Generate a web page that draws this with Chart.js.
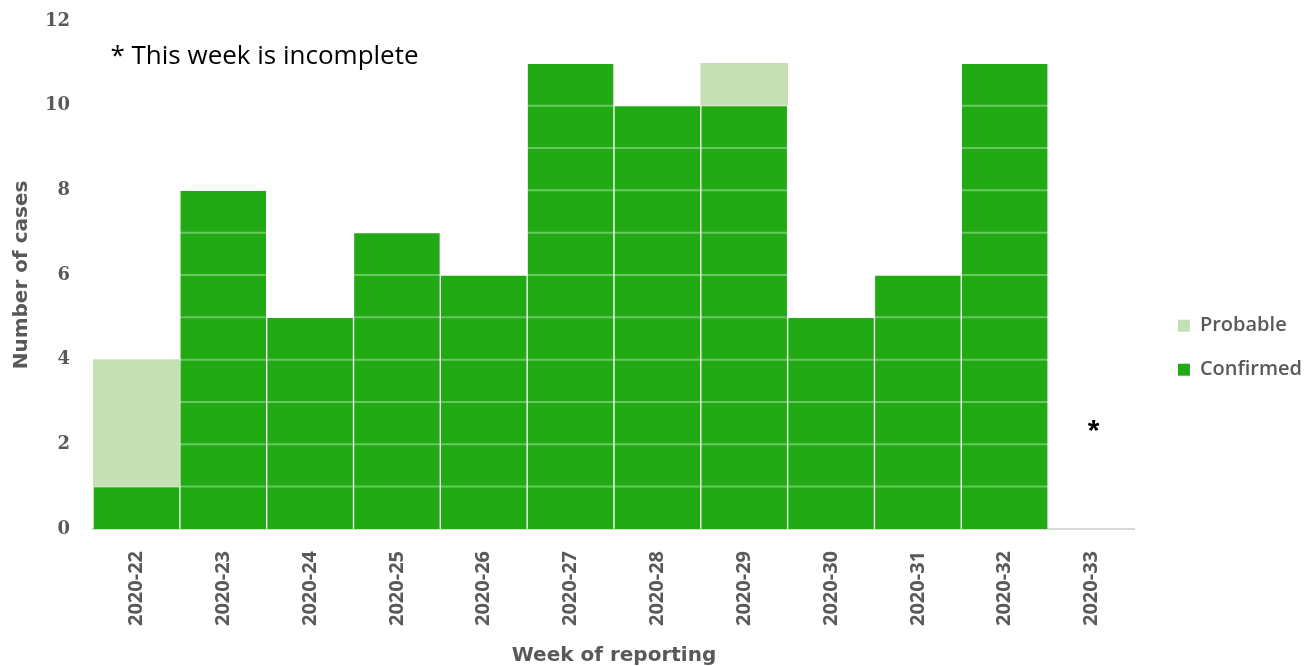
<!DOCTYPE html>
<html>
<head>
<meta charset="utf-8">
<script src="https://cdn.jsdelivr.net/npm/chart.js@4/dist/chart.umd.min.js"></script>
<style>
  html, body { margin: 0; padding: 0; background: #fff; }
  #wrap { width: 1304px; height: 666px; position: relative; }
</style>
</head>
<body>
<div id="wrap"><canvas id="c"></canvas></div>
<script>
const weeks = ["2020-22","2020-23","2020-24","2020-25","2020-26","2020-27","2020-28","2020-29","2020-30","2020-31","2020-32","2020-33"];
const confirmed = [1, 8, 5, 7, 6, 11, 10, 10, 5, 6, 11, 0];
const probable  = [3, 0, 0, 0, 0, 0, 0, 1, 0, 0, 0, 0];
const yTicks = [0, 2, 4, 6, 8, 10, 12];
const noteText = "* This week is incomplete";
const incompleteWeek = "2020-33";

const gray = "#595959";

const unitLines = {
  id: 'unitLines',
  afterDatasetsDraw(chart) {
    const ctx = chart.ctx;
    const y = chart.scales.y;
    const meta = chart.getDatasetMeta(0);
    ctx.save();
    ctx.strokeStyle = 'rgba(255,255,255,0.33)';
    ctx.lineWidth = 2;
    meta.data.forEach((bar, i) => {
      const v = confirmed[i];
      for (let k = 1; k < v; k++) {
        const py = y.getPixelForValue(k);
        ctx.beginPath();
        ctx.moveTo(bar.x - bar.width / 2, py);
        ctx.lineTo(bar.x + bar.width / 2, py);
        ctx.stroke();
      }
    });
    ctx.restore();
  }
};

const notes = {
  id: 'notes',
  afterDraw(chart) {
    const ctx = chart.ctx;
    const x = chart.scales.x, y = chart.scales.y;
    ctx.save();
    ctx.fillStyle = '#000';
    ctx.font = '26px "Open Sans", "Liberation Sans", sans-serif';
    ctx.textBaseline = 'middle';
    ctx.textAlign = 'left';
    ctx.fillText(noteText, x.getPixelForValue(0) - 26, y.getPixelForValue(11.15));
    ctx.font = 'bold 30px "Liberation Sans", sans-serif';
    ctx.textAlign = 'center';
    ctx.fillText('*', x.getPixelForValue(weeks.indexOf(incompleteWeek)) + 2, y.getPixelForValue(2.3));
    ctx.restore();
  }
};

new Chart(document.getElementById('c'), {
  type: 'bar',
  data: {
    labels: weeks,
    datasets: [
      { label: 'Confirmed', data: confirmed,
        backgroundColor: c => (c.raw === 0 ? 'rgba(0,0,0,0)' : '#22AA14'),
        borderColor: 'rgba(255,255,255,0.35)',
        borderWidth: c => (c.raw > 0 ? 1 : 0) },
      { label: 'Probable', data: probable,
        backgroundColor: c => (c.raw === 0 ? 'rgba(0,0,0,0)' : '#C6E0B5'),
        borderWidth: 0 }
    ]
  },
  options: {
    responsive: true,
    maintainAspectRatio: false,
    animation: false,
    layout: { padding: { top: 21, right: -8, left: 0, bottom: 0 } },
    datasets: { bar: { barPercentage: 1, categoryPercentage: 1 } },
    plugins: {
      legend: {
        position: 'right',
        reverse: true,
        title: { display: true, text: ' ', padding: 0, font: { size: 7 } },
        labels: {
          color: gray,
          font: { family: '"Open Sans", "Liberation Sans", sans-serif', size: 20, weight: '600' },
          boxWidth: 12, boxHeight: 12, padding: 24,
          generateLabels(chart) {
            return chart.data.datasets.map((ds, i) => ({
              text: ds.label,
              fillStyle: i === 0 ? '#22AA14' : '#C6E0B5',
              strokeStyle: 'rgba(0,0,0,0)',
              lineWidth: 0,
              fontColor: gray,
              hidden: false,
              datasetIndex: i
            }));
          }
        }
      },
      tooltip: { enabled: false }
    },
    scales: {
      x: {
        stacked: true,
        grid: { display: false },
        border: { display: true, color: '#D9D9D9', width: 2 },
        ticks: {
          color: gray, maxRotation: 90, minRotation: 90, padding: 14,
          font: { family: '"Open Sans", "Liberation Sans", sans-serif', size: 20, weight: 'bold' }
        },
        title: {
          display: true, text: 'Week of reporting', color: gray,
          font: { family: '"DejaVu Sans", sans-serif', size: 20, weight: 'bold', lineHeight: 1 },
          padding: { top: 6, bottom: 0 }
        }
      },
      y: {
        stacked: true,
        min: 0, max: 12,
        afterBuildTicks(scale) { scale.ticks = yTicks.map(v => ({ value: v })); },
        grid: { display: false, drawTicks: true, tickLength: 23 },
        border: { display: false },
        ticks: {
          color: gray, padding: 0,
          font: { family: '"DejaVu Serif", serif', size: 18, weight: 'bold' }
        },
        title: {
          display: true, text: 'Number of cases', color: gray,
          font: { family: '"DejaVu Sans", sans-serif', size: 20, weight: 'bold' },
          padding: { top: 10, bottom: 11 }
        }
      },
      gap: {
        type: 'linear',
        position: 'right',
        display: true,
        grid: { display: false, drawTicks: false },
        border: { display: false },
        ticks: { display: false },
        afterFit(scale) { scale.width = 19; }
      }
    }
  },
  plugins: [unitLines, notes]
});
</script>
</body>
</html>
